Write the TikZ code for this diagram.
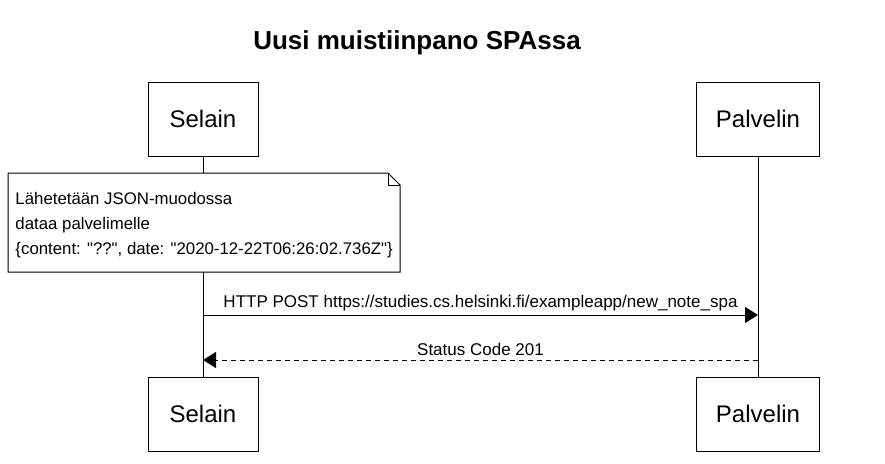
\documentclass[tikz,border=0pt]{standalone}
\usepackage{fontspec}
\setmainfont{Liberation Sans}
\usetikzlibrary{positioning, arrows.meta}

\begin{document}
\begin{tikzpicture}[line width=1pt, x=1pt, y=-1pt
  ]
% Styles
\tikzstyle{actor}=[draw=black, fill=white, outer sep=0pt, minimum height=74pt, font=\fontsize{24}{28}\selectfont, text=black]
\tikzstyle{notebox}=[fill=white, outer sep=0pt, inner sep=0pt, minimum width=392pt, minimum height=99pt]
\tikzstyle{notetext}=[anchor=west, inner sep=0pt, align=left, font=\fontsize{16.8}{25}\selectfont, text=black]
\tikzstyle{msg}=[draw=black, -{Triangle[length=13pt,width=16pt]}]
\tikzstyle{msglabel}=[above, inner sep=3pt, font=\fontsize{17}{20}\selectfont, text=black]

\fill[white] (0,0) rectangle (885,463);
\useasboundingbox (0,0) rectangle (885,463);

\node[font=\bfseries\fontsize{26}{30}\selectfont] (title) at (417,43) {Uusi muistiinpano SPAssa};

% Actors
\node[actor, minimum width=110pt] (sel) at (203,119) {Selain};
\node[actor, minimum width=123pt] (pal) at (758,119) {Palvelin};
\node[actor, minimum width=110pt, below=221pt of sel] (sel2) {Selain};
\node[actor, minimum width=123pt, below=221pt of pal] (pal2) {Palvelin};

% Lifelines
\draw (sel.south) -- (sel2.north);
\draw (pal.south) -- (pal2.north);

% Note
\node[notebox] (note) at (204,222.5) {};
\draw[fill=white] (note.north west) -- ([xshift=-12pt]note.north east) -- ([yshift=-12pt]note.north east) -- (note.south east) -- (note.south west) -- cycle;
\draw ([xshift=-12pt]note.north east) -- ([xshift=-12pt,yshift=-12pt]note.north east) -- ([yshift=-12pt]note.north east);
\node[notetext] (notetxt) at ([xshift=7pt,yshift=-3pt]note.west) {L\"ahetet\"a\"an JSON-muodossa\\dataa palvelimelle\\\{content: \textquotedbl??\textquotedbl, date: \textquotedbl2020-12-22T06:26:02.736Z\textquotedbl\}};

% Messages
\path (sel) ++(0,196) coordinate (m1);
\path (sel) ++(0,241) coordinate (m2);
\draw[msg] (m1) -- (m1 -| pal) node[midway, msglabel] {HTTP POST https://studies.cs.helsinki.fi/exampleapp/new\_note\_spa};
\draw[msg, dash pattern=on 5pt off 4pt] (m2 -| pal) -- (m2) node[midway, msglabel, inner sep=4pt] {Status Code 201};
\end{tikzpicture}
\end{document}
